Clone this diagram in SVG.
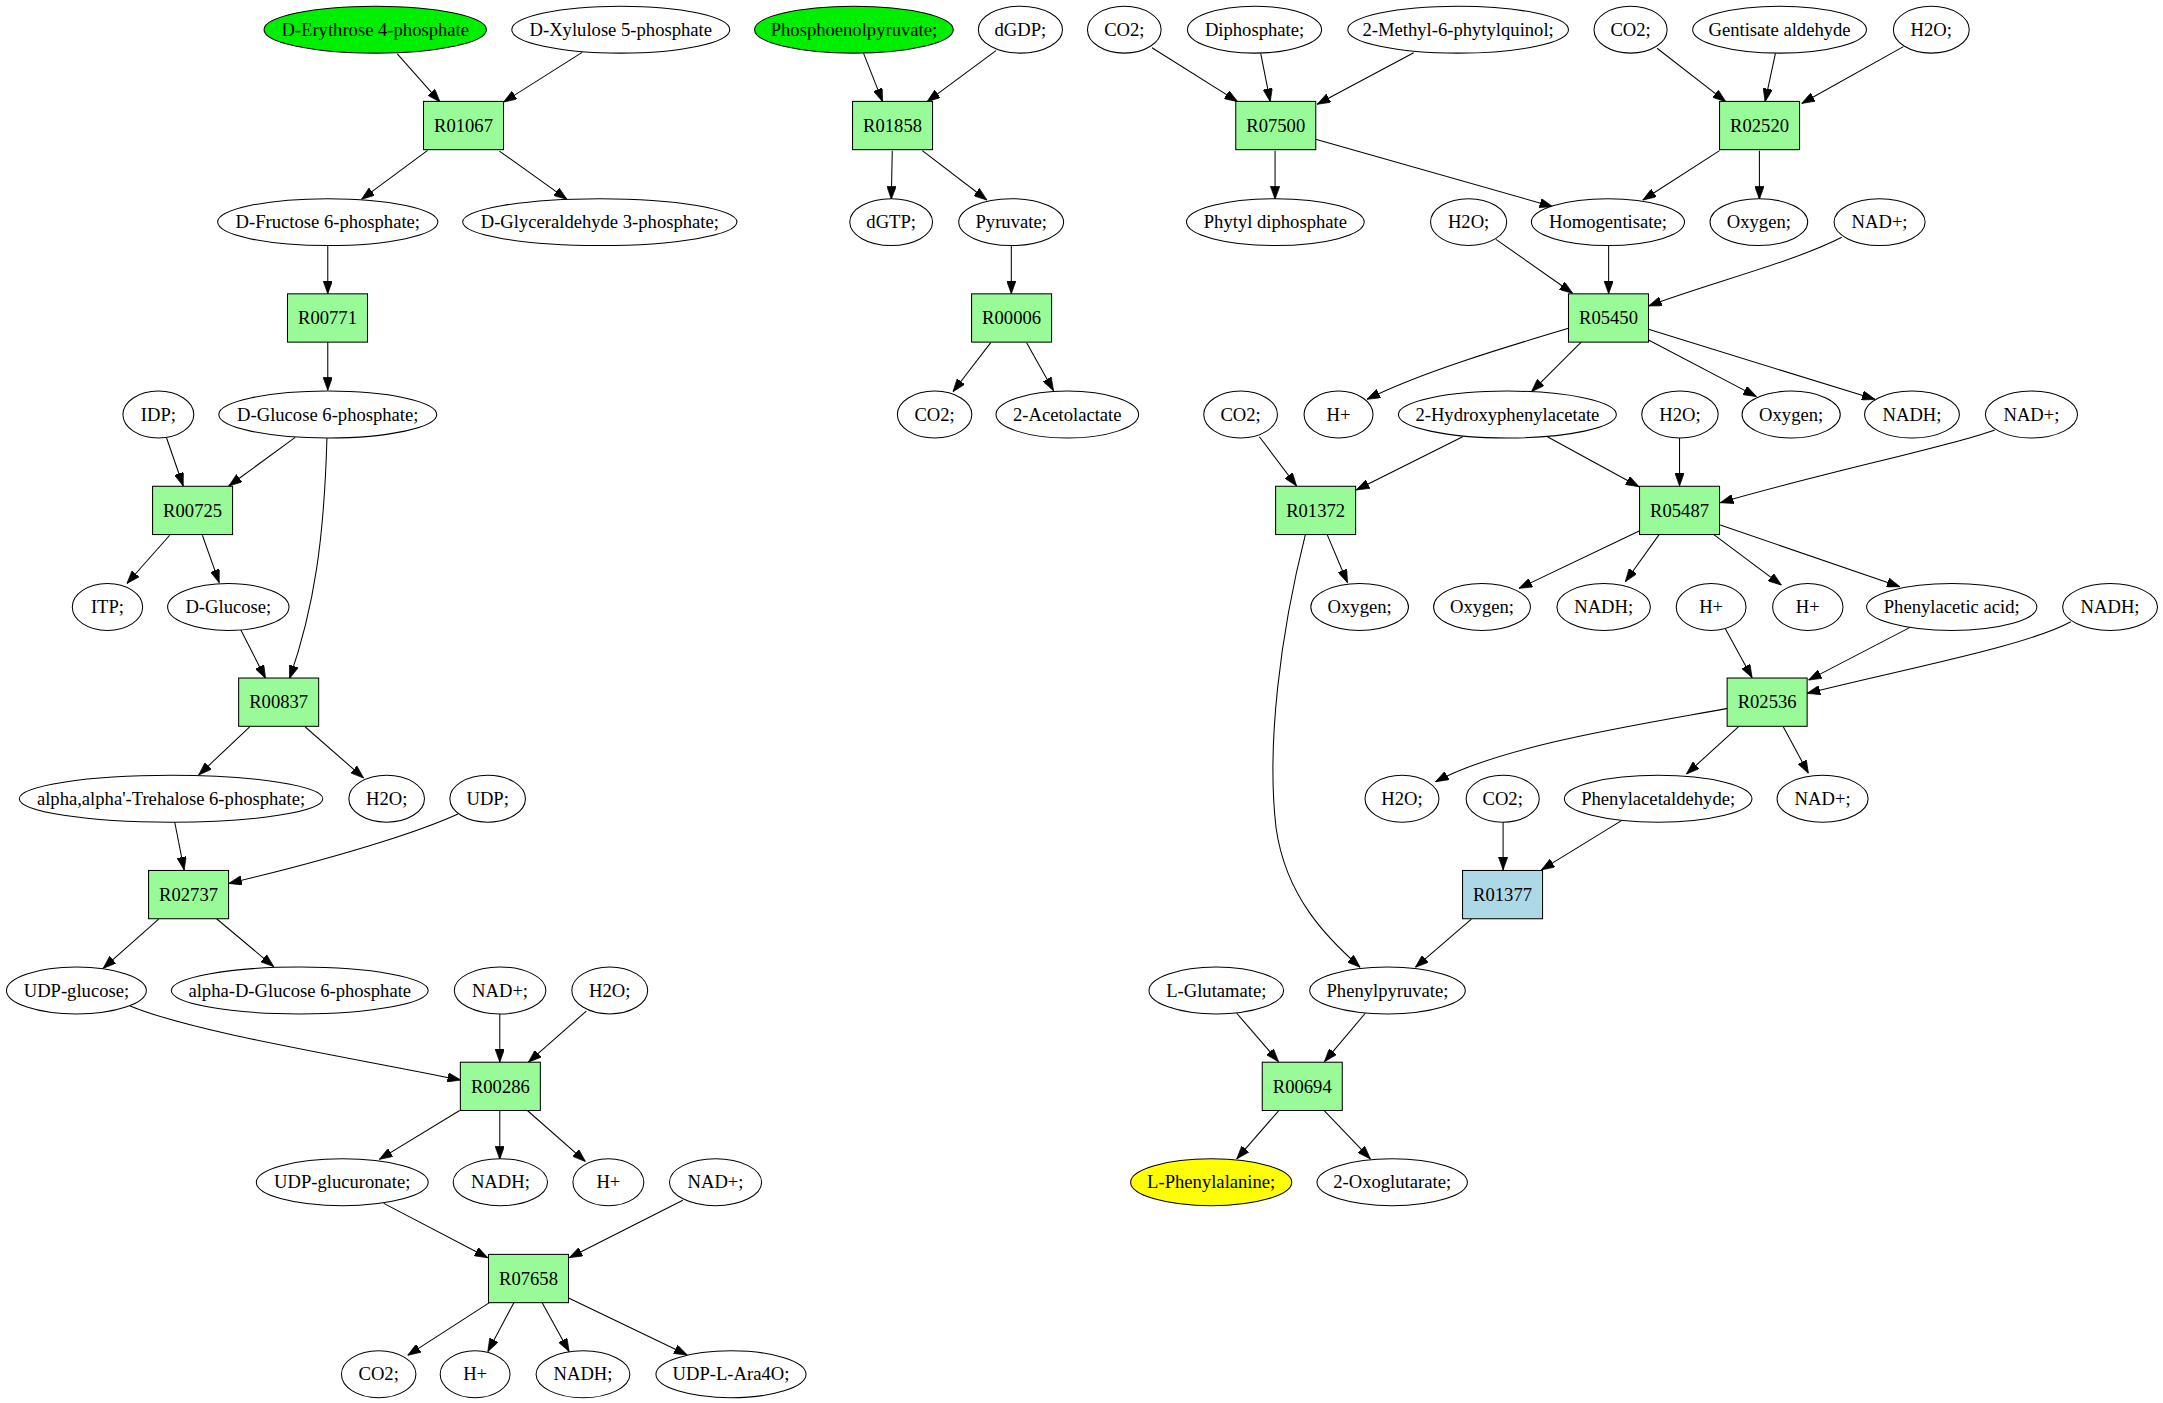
<svg xmlns="http://www.w3.org/2000/svg" width="2163" height="1403" viewBox="0 0 2163 1403">
<defs>
<style>
.e{fill:#ffffff;stroke:#000;stroke-width:0.75}
.g{fill:#00ee00}
.y{fill:#ffff00}
.b{fill:#98fb98;stroke:#000;stroke-width:0.75}
.lb{fill:#add8e6}
text{font-family:"Liberation Serif","Times New Roman",serif;font-size:13.5px;fill:#000;text-anchor:middle}
#edges path{fill:none;stroke:#000;stroke-width:0.75;marker-end:url(#ah)}
</style>
<marker id="ah" viewBox="0 0 9.5 6.8" markerWidth="9.5" markerHeight="6.8" refX="9.5" refY="3.4" orient="auto" markerUnits="userSpaceOnUse">
<path d="M0,0 L9.5,3.4 L0,6.8 z" fill="#000" stroke="#000" stroke-width="0.5"/>
</marker>
</defs>
<rect width="2163" height="1403" fill="#ffffff"/>
<g transform="scale(1.3795)">
<g id="edges">
<path d="M288,39 L319,74"/>
<path d="M422,38 L365,74"/>
<path d="M310,109 L262,144.5"/>
<path d="M362,109.5 L411,144.5"/>
<path d="M237.6,178 L237.6,213"/>
<path d="M237.6,248 L237.6,283"/>
<path d="M120.7,317.3 L132.8,352.3"/>
<path d="M214,317 L165.8,352.3"/>
<path d="M123,388 L92,423"/>
<path d="M146.7,388 L158.9,422.4"/>
<path d="M174.5,456.5 L192.5,491.8"/>
<path d="M237,317.3 C235,390 228,440 209.9,491.8"/>
<path d="M181,527 L144,561.8"/>
<path d="M221.3,527 L263.6,564"/>
<path d="M126.6,595.7 L133.5,630.7"/>
<path d="M332,590 C310,600 260,618 165.8,640.4"/>
<path d="M115,666.2 L74.7,702"/>
<path d="M157,666 L198.4,700.7"/>
<path d="M94.3,729.2 C140,748 240,764 334,782.9"/>
<path d="M362.3,735 L362.3,770"/>
<path d="M425,732.9 L383,770"/>
<path d="M333.2,805 L275,840.4"/>
<path d="M362.3,805 L362.3,840.4"/>
<path d="M382.3,805 L424.4,842"/>
<path d="M278.2,872.3 L353.6,911.7"/>
<path d="M495,870 L412.6,911.7"/>
<path d="M354.8,944.3 L295.5,982.5"/>
<path d="M372.5,944.3 L353.6,979.8"/>
<path d="M393,944.3 L412.6,979.8"/>
<path d="M411.8,940.7 L498.2,982.2"/>
<path d="M626,38.7 L639.8,73.7"/>
<path d="M722,36.7 L672,73.7"/>
<path d="M646.8,109.2 L646.1,144.5"/>
<path d="M668.6,109.2 L715.4,145"/>
<path d="M733.1,178 L733.1,213"/>
<path d="M718.2,248.4 L690.8,284"/>
<path d="M744.2,248.4 L763.7,283.2"/>
<path d="M835.1,34.6 L897.2,73.7"/>
<path d="M913.9,38.7 L920.8,73.7"/>
<path d="M1024.8,38.2 L954.8,75.6"/>
<path d="M924.3,109.2 L924.3,144.5"/>
<path d="M953.7,101 L1125.6,149.8"/>
<path d="M1201.2,35 L1251,73.7"/>
<path d="M1287,38.7 L1279.5,73.7"/>
<path d="M1379.8,33.8 L1306,75"/>
<path d="M1246.5,109.2 L1190.9,145"/>
<path d="M1275.4,109.2 L1275.4,144.5"/>
<path d="M1084.4,173.5 L1140,212.6"/>
<path d="M1166.1,178 L1166.1,213"/>
<path d="M1335.1,172 C1300,190 1240,205 1195,221.8"/>
<path d="M1137,238 C1090,252 1030,270 990.9,289.5"/>
<path d="M1146.2,248 L1110.1,284"/>
<path d="M1195,246.5 L1273.3,287.5"/>
<path d="M1195,238.7 L1359.2,289.5"/>
<path d="M912.9,316.6 L939.9,352.3"/>
<path d="M1060.3,316.6 L983.1,355.2"/>
<path d="M1121.7,316.6 L1188.1,352.8"/>
<path d="M1217.5,317.3 L1217.5,352.3"/>
<path d="M1446,311.7 C1420,322 1320,343 1247,364.4"/>
<path d="M962,387.4 L976.8,422.4"/>
<path d="M946.3,387.4 C928,460 918,540 925,600 C932,650 962,680 986,701.2"/>
<path d="M1188.6,384.7 L1101.1,426.5"/>
<path d="M1202.8,387.4 L1178.2,421.7"/>
<path d="M1242.1,387.4 L1291.3,424.1"/>
<path d="M1247,380.6 L1377.3,425.3"/>
<path d="M1250.5,455.5 L1270.1,491.3"/>
<path d="M1384.6,454.8 L1311,493"/>
<path d="M1501.1,450.7 C1470,468 1380,485 1309.9,502.6"/>
<path d="M1252.4,513.5 C1190,525 1090,540 1040.6,566.7"/>
<path d="M1260.3,526.8 L1222.5,561.1"/>
<path d="M1292.7,526.8 L1310.9,560.6"/>
<path d="M1089.6,595.6 L1089.6,630.6"/>
<path d="M1175.4,594.9 L1117.3,630.6"/>
<path d="M1066.6,666.2 L1026,701.2"/>
<path d="M896.5,734.5 L926.8,769.6"/>
<path d="M989.7,734.5 L960.1,769.6"/>
<path d="M926.8,805.3 L896.5,840.1"/>
<path d="M960.1,805.3 L993.4,840.1"/>
</g>
<!-- row 0 -->
<g id="n_erythrose"><ellipse class="e g" cx="272" cy="21.5" rx="80.6" ry="17"/><text x="272" y="26">D-Erythrose 4-phosphate</text></g>
<g id="n_xylulose"><ellipse class="e" cx="450" cy="21.5" rx="79" ry="17"/><text x="450" y="26">D-Xylulose 5-phosphate</text></g>
<g id="n_pep"><ellipse class="e g" cx="619" cy="21.5" rx="72" ry="17"/><text x="619" y="26">Phosphoenolpyruvate;</text></g>
<g id="n_dgdp"><ellipse class="e" cx="739.7" cy="21.5" rx="30.5" ry="17"/><text x="739.7" y="26">dGDP;</text></g>
<g id="n_co2_a"><ellipse class="e" cx="815" cy="21.5" rx="26.7" ry="17"/><text x="815" y="26">CO2;</text></g>
<g id="n_diphosphate"><ellipse class="e" cx="909.4" cy="21.5" rx="48.6" ry="17"/><text x="909.4" y="26">Diphosphate;</text></g>
<g id="n_methylphytyl"><ellipse class="e" cx="1057" cy="21.5" rx="80" ry="17"/><text x="1057" y="26">2-Methyl-6-phytylquinol;</text></g>
<g id="n_co2_b"><ellipse class="e" cx="1182" cy="21.5" rx="26.5" ry="17"/><text x="1182" y="26">CO2;</text></g>
<g id="n_gentisate"><ellipse class="e" cx="1290" cy="21.5" rx="63" ry="17"/><text x="1290" y="26">Gentisate aldehyde</text></g>
<g id="n_h2o_a"><ellipse class="e" cx="1400" cy="21.5" rx="27.5" ry="17"/><text x="1400" y="26">H2O;</text></g>
<!-- box row 0 -->
<g id="r_R01067"><rect class="b" x="307" y="73.5" width="58" height="35"/><text x="336" y="95.5">R01067</text></g>
<g id="r_R01858"><rect class="b" x="618" y="73.5" width="58" height="35"/><text x="647" y="95.5">R01858</text></g>
<g id="r_R07500"><rect class="b" x="895.8" y="73.5" width="58" height="35"/><text x="924.8" y="95.5">R07500</text></g>
<g id="r_R02520"><rect class="b" x="1246.5" y="73.5" width="58" height="35"/><text x="1275.5" y="95.5">R02520</text></g>
<!-- row 1 -->
<g id="n_fructose"><ellipse class="e" cx="237.6" cy="161" rx="79.8" ry="17"/><text x="237.6" y="165.5">D-Fructose 6-phosphate;</text></g>
<g id="n_glyceraldehyde"><ellipse class="e" cx="434.8" cy="161" rx="99.4" ry="17"/><text x="434.8" y="165.5">D-Glyceraldehyde 3-phosphate;</text></g>
<g id="n_dgtp"><ellipse class="e" cx="646" cy="161" rx="30" ry="17"/><text x="646" y="165.5">dGTP;</text></g>
<g id="n_pyruvate"><ellipse class="e" cx="733" cy="161" rx="38" ry="17"/><text x="733" y="165.5">Pyruvate;</text></g>
<g id="n_phytyl"><ellipse class="e" cx="924.5" cy="161" rx="64.4" ry="17"/><text x="924.5" y="165.5">Phytyl diphosphate</text></g>
<g id="n_h2o_b"><ellipse class="e" cx="1064.6" cy="161" rx="27.6" ry="17"/><text x="1064.6" y="165.5">H2O;</text></g>
<g id="n_homogentisate"><ellipse class="e" cx="1165.6" cy="161" rx="55.5" ry="17"/><text x="1165.6" y="165.5">Homogentisate;</text></g>
<g id="n_oxygen_a"><ellipse class="e" cx="1275" cy="161" rx="35.4" ry="17"/><text x="1275" y="165.5">Oxygen;</text></g>
<g id="n_nad_a"><ellipse class="e" cx="1362.5" cy="161" rx="33" ry="17"/><text x="1362.5" y="165.5">NAD+;</text></g>
<!-- box row 1 -->
<g id="r_R00771"><rect class="b" x="208.4" y="213" width="58" height="35"/><text x="237.4" y="235">R00771</text></g>
<g id="r_R00006"><rect class="b" x="704.3" y="213" width="58" height="35"/><text x="733.3" y="235">R00006</text></g>
<g id="r_R05450"><rect class="b" x="1137" y="213" width="58" height="35"/><text x="1166" y="235">R05450</text></g>
<!-- row 2 -->
<g id="n_idp"><ellipse class="e" cx="114.8" cy="300.5" rx="25.7" ry="17"/><text x="114.8" y="305">IDP;</text></g>
<g id="n_glucose6p"><ellipse class="e" cx="237.6" cy="300.5" rx="79" ry="17"/><text x="237.6" y="305">D-Glucose 6-phosphate;</text></g>
<g id="n_co2_c"><ellipse class="e" cx="677.5" cy="300.5" rx="27" ry="17"/><text x="677.5" y="305">CO2;</text></g>
<g id="n_acetolactate"><ellipse class="e" cx="773.7" cy="300.5" rx="51.7" ry="17"/><text x="773.7" y="305">2-Acetolactate</text></g>
<g id="n_co2_d"><ellipse class="e" cx="899.3" cy="300.5" rx="26.7" ry="17"/><text x="899.3" y="305">CO2;</text></g>
<g id="n_hplus_a"><ellipse class="e" cx="970.3" cy="300.5" rx="25" ry="17"/><text x="970.3" y="305">H+</text></g>
<g id="n_hydroxyphenylacetate"><ellipse class="e" cx="1092.7" cy="300.5" rx="79" ry="17"/><text x="1092.7" y="305">2-Hydroxyphenylacetate</text></g>
<g id="n_h2o_c"><ellipse class="e" cx="1217.8" cy="300.5" rx="27.7" ry="17"/><text x="1217.8" y="305">H2O;</text></g>
<g id="n_oxygen_b"><ellipse class="e" cx="1298.4" cy="300.5" rx="35.6" ry="17"/><text x="1298.4" y="305">Oxygen;</text></g>
<g id="n_nadh_a"><ellipse class="e" cx="1386" cy="300.5" rx="34.4" ry="17"/><text x="1386" y="305">NADH;</text></g>
<g id="n_nad_b"><ellipse class="e" cx="1472.6" cy="300.5" rx="33.4" ry="17"/><text x="1472.6" y="305">NAD+;</text></g>
<!-- box row 2 -->
<g id="r_R00725"><rect class="b" x="110.6" y="352.5" width="58" height="35"/><text x="139.6" y="374.5">R00725</text></g>
<g id="r_R01372"><rect class="b" x="924.7" y="352.5" width="58" height="35"/><text x="953.7" y="374.5">R01372</text></g>
<g id="r_R05487"><rect class="b" x="1188.5" y="352.5" width="58" height="35"/><text x="1217.5" y="374.5">R05487</text></g>
<!-- row 3 -->
<g id="n_itp"><ellipse class="e" cx="77.9" cy="440" rx="25.5" ry="17"/><text x="77.9" y="444.5">ITP;</text></g>
<g id="n_glucose"><ellipse class="e" cx="165.5" cy="440" rx="44" ry="17"/><text x="165.5" y="444.5">D-Glucose;</text></g>
<g id="n_oxygen_c"><ellipse class="e" cx="985.6" cy="440" rx="35.4" ry="17"/><text x="985.6" y="444.5">Oxygen;</text></g>
<g id="n_oxygen_d"><ellipse class="e" cx="1074.3" cy="440" rx="35.1" ry="17"/><text x="1074.3" y="444.5">Oxygen;</text></g>
<g id="n_nadh_b"><ellipse class="e" cx="1162.5" cy="440" rx="33.9" ry="17"/><text x="1162.5" y="444.5">NADH;</text></g>
<g id="n_hplus_b"><ellipse class="e" cx="1240.4" cy="440" rx="25.3" ry="17"/><text x="1240.4" y="444.5">H+</text></g>
<g id="n_hplus_c"><ellipse class="e" cx="1310.5" cy="440" rx="25.5" ry="17"/><text x="1310.5" y="444.5">H+</text></g>
<g id="n_phenylacetic"><ellipse class="e" cx="1414.8" cy="440" rx="61.7" ry="17"/><text x="1414.8" y="444.5">Phenylacetic acid;</text></g>
<g id="n_nadh_c"><ellipse class="e" cx="1529.6" cy="440" rx="34.4" ry="17"/><text x="1529.6" y="444.5">NADH;</text></g>
<!-- box row 3 -->
<g id="r_R00837"><rect class="b" x="173" y="491.5" width="58" height="35"/><text x="202" y="513.5">R00837</text></g>
<g id="r_R02536"><rect class="b" x="1252" y="491.5" width="58" height="35"/><text x="1281" y="513.5">R02536</text></g>
<!-- row 4 -->
<g id="n_trehalose"><ellipse class="e" cx="124" cy="579" rx="110" ry="17"/><text x="124" y="583.5">alpha,alpha'-Trehalose 6-phosphate;</text></g>
<g id="n_h2o_d"><ellipse class="e" cx="280.3" cy="579" rx="27.4" ry="17"/><text x="280.3" y="583.5">H2O;</text></g>
<g id="n_udp"><ellipse class="e" cx="353.5" cy="579" rx="27.4" ry="17"/><text x="353.5" y="583.5">UDP;</text></g>
<g id="n_h2o_e"><ellipse class="e" cx="1016.3" cy="579" rx="26.8" ry="17"/><text x="1016.3" y="583.5">H2O;</text></g>
<g id="n_co2_e"><ellipse class="e" cx="1089.3" cy="579" rx="26.5" ry="17"/><text x="1089.3" y="583.5">CO2;</text></g>
<g id="n_phenylacetaldehyde"><ellipse class="e" cx="1202" cy="579" rx="68" ry="17"/><text x="1202" y="583.5">Phenylacetaldehyde;</text></g>
<g id="n_nad_c"><ellipse class="e" cx="1321.2" cy="579" rx="33" ry="17"/><text x="1321.2" y="583.5">NAD+;</text></g>
<!-- box row 4 -->
<g id="r_R02737"><rect class="b" x="107.7" y="631" width="58" height="35"/><text x="136.7" y="653">R02737</text></g>
<g id="r_R01377"><rect class="b lb" x="1060.2" y="631" width="58" height="35"/><text x="1089.2" y="653">R01377</text></g>
<!-- row 5 -->
<g id="n_udpglucose"><ellipse class="e" cx="55.4" cy="718" rx="50.7" ry="17"/><text x="55.4" y="722.5">UDP-glucose;</text></g>
<g id="n_alphaglucose6p"><ellipse class="e" cx="217.3" cy="718" rx="93.1" ry="17"/><text x="217.3" y="722.5">alpha-D-Glucose 6-phosphate</text></g>
<g id="n_nad_d"><ellipse class="e" cx="362.5" cy="718" rx="33.2" ry="17"/><text x="362.5" y="722.5">NAD+;</text></g>
<g id="n_h2o_f"><ellipse class="e" cx="442" cy="718" rx="27.5" ry="17"/><text x="442" y="722.5">H2O;</text></g>
<g id="n_glutamate"><ellipse class="e" cx="881.7" cy="718" rx="48.8" ry="17"/><text x="881.7" y="722.5">L-Glutamate;</text></g>
<g id="n_phenylpyruvate"><ellipse class="e" cx="1005.8" cy="718" rx="56.4" ry="17"/><text x="1005.8" y="722.5">Phenylpyruvate;</text></g>
<!-- box row 5 -->
<g id="r_R00286"><rect class="b" x="333.7" y="770" width="58" height="35"/><text x="362.7" y="792">R00286</text></g>
<g id="r_R00694"><rect class="b" x="915" y="770" width="58" height="35"/><text x="944" y="792">R00694</text></g>
<!-- row 6 -->
<g id="n_udpglucuronate"><ellipse class="e" cx="248.1" cy="857" rx="62.3" ry="17"/><text x="248.1" y="861.5">UDP-glucuronate;</text></g>
<g id="n_nadh_d"><ellipse class="e" cx="362.7" cy="857" rx="34.2" ry="17"/><text x="362.7" y="861.5">NADH;</text></g>
<g id="n_hplus_d"><ellipse class="e" cx="441" cy="857" rx="25.7" ry="17"/><text x="441" y="861.5">H+</text></g>
<g id="n_nad_e"><ellipse class="e" cx="518.7" cy="857" rx="33.4" ry="17"/><text x="518.7" y="861.5">NAD+;</text></g>
<g id="n_phenylalanine"><ellipse class="e y" cx="878" cy="857" rx="58.4" ry="17"/><text x="878" y="861.5">L-Phenylalanine;</text></g>
<g id="n_oxoglutarate"><ellipse class="e" cx="1009.2" cy="857" rx="54.5" ry="17"/><text x="1009.2" y="861.5">2-Oxoglutarate;</text></g>
<!-- box row 6 -->
<g id="r_R07658"><rect class="b" x="354.1" y="909.3" width="58" height="35"/><text x="383.1" y="931.3">R07658</text></g>
<!-- row 7 -->
<g id="n_co2_f"><ellipse class="e" cx="274.5" cy="996.2" rx="27" ry="17"/><text x="274.5" y="1000.7">CO2;</text></g>
<g id="n_hplus_e"><ellipse class="e" cx="344.4" cy="996.2" rx="25.3" ry="17"/><text x="344.4" y="1000.7">H+</text></g>
<g id="n_nadh_e"><ellipse class="e" cx="422.6" cy="996.2" rx="34" ry="17"/><text x="422.6" y="1000.7">NADH;</text></g>
<g id="n_udparaf"><ellipse class="e" cx="529.9" cy="996.2" rx="54.4" ry="17"/><text x="529.9" y="1000.7">UDP-L-Ara4O;</text></g>
</g>
</svg>
